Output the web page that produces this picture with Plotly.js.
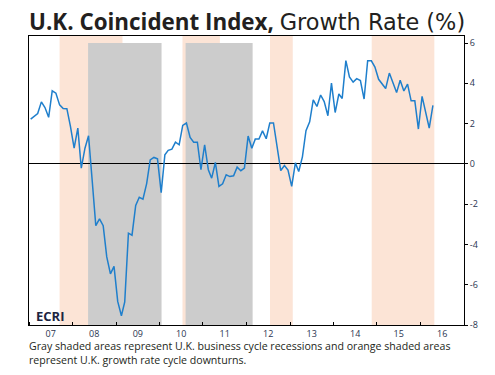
<!DOCTYPE html>
<html>
<head>
<meta charset="utf-8">
<script src="https://cdn.plot.ly/plotly-3.0.1.min.js"></script>
<style>
  html, body { margin: 0; padding: 0; background: #ffffff; }
  #chart { width: 495px; height: 375px; }
</style>
</head>
<body>
<div id="chart"></div>
<script>
// Monthly UK coincident index growth rate (%), Jan 2007 – Apr 2016
const startYear = 2007;
const startMonth = 1;
const growthRate = [
  2.22, 2.37, 2.50, 3.08, 2.80, 2.31, 3.63, 3.51, 2.93, 2.75, 2.74, 1.86,
  0.78, 1.78, -0.21, 0.78, 1.40, -0.85, -3.07, -2.73, -3.07, -4.62, -5.46, -5.09,
  -6.83, -7.54, -6.85, -3.44, -3.54, -2.06, -1.66, -1.75, -0.98, 0.20, 0.32, 0.25,
  -1.43, 0.45, 0.67, 0.73, 1.08, 0.95, 1.91, 2.03, 1.31, 1.08, 1.08, -0.29,
  0.95, -0.29, -0.71, 0.07, -1.12, -0.99, -0.54, -0.63, -0.59, -0.16, -0.34, -0.21,
  1.38, 0.78, 1.23, 1.23, 1.64, 1.25, 2.03, 2.03, 0.90, -0.33, -0.08, -0.31,
  -1.12, 0.05, -0.38, 0.35, 1.65, 2.09, 3.18, 2.85, 3.42, 3.09, 2.39, 4.01,
  2.55, 3.47, 3.25, 5.13, 4.32, 4.06, 4.23, 4.14, 3.22, 5.12, 5.12, 4.81,
  4.20, 3.95, 3.74, 4.51, 4.01, 3.54, 4.15, 3.62, 3.96, 3.13, 3.13, 1.73,
  3.35, 2.60, 1.78, 2.90
];

// Gray: U.K. business cycle recessions
const recessionStart = ['2008-05-11', '2010-08-08'];
const recessionEnd   = ['2010-01-18', '2012-02-22'];
// Orange: U.K. growth rate cycle downturns
const downturnStart = ['2007-09-15', '2010-07-13', '2012-07-17', '2014-11-18'];
const downturnEnd   = ['2009-02-24', '2011-05-23', '2013-01-24', '2016-04-27'];

const yTickVals = [-8, -6, -4, -2, 0, 2, 4, 6];
const yTickText = ['-8', '-6', '-4', '-2', '0', '2', '4', '6'];

function pad(n) { return (n < 10 ? '0' : '') + n; }
const dates = growthRate.map((_, i) => {
  const m0 = (startMonth - 1) + i;
  const y = startYear + Math.floor(m0 / 12);
  const m = (m0 % 12) + 1;
  return y + '-' + pad(m) + '-15';
});

const shapes = [];
downturnStart.forEach((s, i) => {
  shapes.push({type: 'rect', xref: 'x', yref: 'paper', x0: s, x1: downturnEnd[i], y0: 0, y1: 1,
    fillcolor: '#fce4d6', line: {width: 0}, layer: 'below'});
});
recessionStart.forEach((s, i) => {
  shapes.push({type: 'rect', xref: 'x', yref: 'y', x0: s, x1: recessionEnd[i], y0: -8, y1: 6,
    fillcolor: '#cccccc', line: {width: 0}, layer: 'below'});
});

const trace = {
  x: dates, y: growthRate, type: 'scatter', mode: 'lines',
  line: {color: '#1f7fcc', width: 1.5}, hoverinfo: 'skip'
};

const layout = {
  width: 495, height: 375,
  margin: {l: 29, r: 31, t: 36, b: 50},
  paper_bgcolor: '#ffffff', plot_bgcolor: 'rgba(0,0,0,0)',
  showlegend: false,
  font: {family: 'Open Sans, sans-serif', color: '#231f20'},
  title: {
    text: '<b>U.K. Coincident Index,</b> <span style="font-family:\'DejaVu Sans\', sans-serif;">Growth Rate (%)</span>',
    x: 29 / 495, xanchor: 'left', xref: 'container',
    y: 1 - 22 / 375, yanchor: 'middle', yref: 'container',
    font: {size: 22.4, family: 'Open Sans, sans-serif', color: '#231f20'}
  },
  xaxis: {
    type: 'date',
    range: ['2007-01-01', '2017-01-01'],
    tick0: '2007-01-01', dtick: 'M12',
    tickformat: '%y', ticklabelmode: 'period',
    ticks: 'inside', ticklen: 3, tickcolor: '#000',
    showline: true, linecolor: '#000', linewidth: 1, mirror: true,
    showgrid: false, zeroline: false,
    tickfont: {size: 9, color: '#2a3550'}
  },
  yaxis: {
    side: 'right',
    range: [-8, 6.35],
    tickvals: yTickVals, ticktext: yTickText,
    ticks: 'outside', ticklen: 3, tickcolor: '#000',
    showline: true, linecolor: '#000', linewidth: 1, mirror: true,
    showgrid: false,
    zeroline: true, zerolinecolor: '#000', zerolinewidth: 1.2,
    tickfont: {size: 9, color: '#2a3550'}
  },
  shapes: shapes,
  annotations: [
    {text: '<b>ECRI</b>', xref: 'paper', yref: 'paper', x: 0.011, y: 0.03,
     xanchor: 'left', yanchor: 'middle', showarrow: false,
     font: {size: 13, family: 'Open Sans, sans-serif', color: '#1c2541'}},
    {text: 'Gray shaded areas represent U.K. business cycle recessions and orange shaded areas<br>represent U.K. growth rate cycle downturns.',
     xref: 'paper', yref: 'paper', x: -2 / 435, y: -12 / 289,
     xanchor: 'left', yanchor: 'top', align: 'left', showarrow: false,
     font: {size: 10.6, family: 'Open Sans, sans-serif', color: '#231f20'}}
  ]
};

Plotly.newPlot('chart', [trace], layout, {staticPlot: true, displayModeBar: false});
</script>
</body>
</html>
